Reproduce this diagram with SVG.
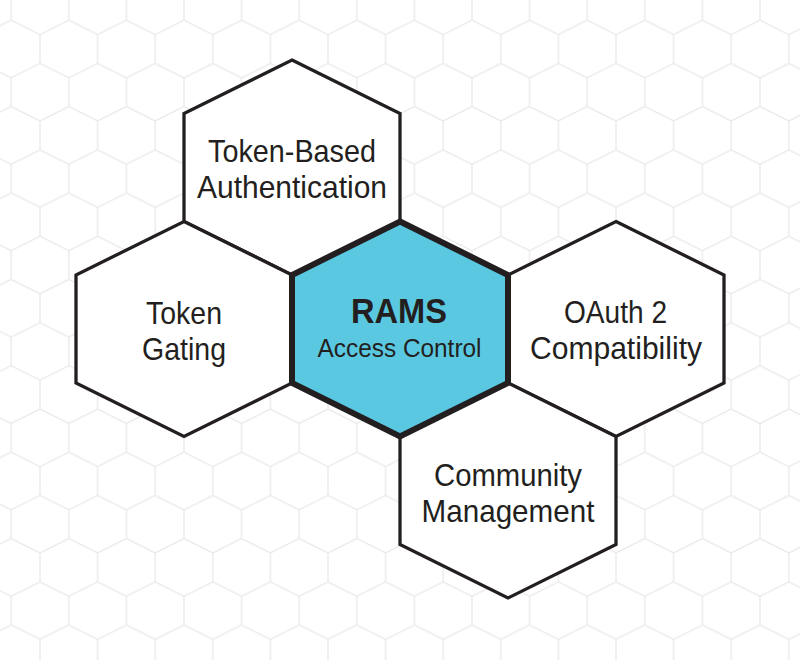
<svg xmlns="http://www.w3.org/2000/svg" width="800" height="660" viewBox="0 0 800 660">
  <defs>
    <pattern id="bg" patternUnits="userSpaceOnUse" x="40" y="5.8" width="57.6" height="86.4">
      <path d="M0,28.8V57.6M57.6,28.8V57.6M0,28.8L28.8,14.4L57.6,28.8M0,57.6L28.8,72L57.6,57.6M28.8,0V14.4M28.8,72V86.4" fill="none" stroke="#e8e8e8" stroke-width="1.3"/>
    </pattern>
  </defs>
  <style>
    .hex { fill: #ffffff; stroke: #231f20; stroke-width: 3.3; stroke-linejoin: miter; }
    .core { fill: #5bc8e2; stroke: #231f20; stroke-width: 6; stroke-linejoin: miter; }
    .lbl { font-family: "Liberation Sans", Arial, sans-serif; font-size: 32px; fill: #231f20; text-anchor: middle; }
    .title { font-family: "Liberation Sans", Arial, sans-serif; font-size: 35px; font-weight: bold; fill: #231f20; text-anchor: middle; }
    .sub { font-family: "Liberation Sans", Arial, sans-serif; font-size: 25.5px; fill: #231f20; text-anchor: middle; }
  </style>
  <rect x="0" y="0" width="800" height="660" fill="#ffffff"/>
  <rect x="0" y="0" width="800" height="660" fill="url(#bg)"/>
  <g id="connectors"></g>
  <g id="node-token-based">
    <polygon class="hex" points="292,60 400,113.5 400,221.5 292,275 184,221.5 184,113.5"/>
    <text class="lbl" x="292" y="161.5" textLength="168" lengthAdjust="spacingAndGlyphs">Token-Based</text>
    <text class="lbl" x="292" y="197.5" textLength="190" lengthAdjust="spacingAndGlyphs">Authentication</text>
  </g>
  <g id="node-token-gating">
    <polygon class="hex" points="184,221.5 292,275 292,383 184,436.5 76,383 76,275"/>
    <text class="lbl" x="184" y="324" textLength="76" lengthAdjust="spacingAndGlyphs">Token</text>
    <text class="lbl" x="184" y="360" textLength="84" lengthAdjust="spacingAndGlyphs">Gating</text>
  </g>
  <g id="node-oauth">
    <polygon class="hex" points="616,221.5 724,275 724,383 616,436.5 508,383 508,275"/>
    <text class="lbl" x="615.5" y="323" textLength="103" lengthAdjust="spacingAndGlyphs">OAuth 2</text>
    <text class="lbl" x="616" y="359" textLength="172" lengthAdjust="spacingAndGlyphs">Compatibility</text>
  </g>
  <g id="node-community">
    <polygon class="hex" points="508,383 616,436.5 616,544.5 508,598 400,544.5 400,436.5"/>
    <text class="lbl" x="508" y="486" textLength="148" lengthAdjust="spacingAndGlyphs">Community</text>
    <text class="lbl" x="508" y="522" textLength="173" lengthAdjust="spacingAndGlyphs">Management</text>
  </g>
  <g id="node-rams">
    <polygon class="core" points="400,221.5 508,275 508,383 400,436.5 292,383 292,275"/>
    <text class="title" x="399" y="322.5" textLength="96" lengthAdjust="spacingAndGlyphs">RAMS</text>
    <text class="sub" x="399.5" y="356.5" textLength="164" lengthAdjust="spacingAndGlyphs">Access Control</text>
  </g>
</svg>
